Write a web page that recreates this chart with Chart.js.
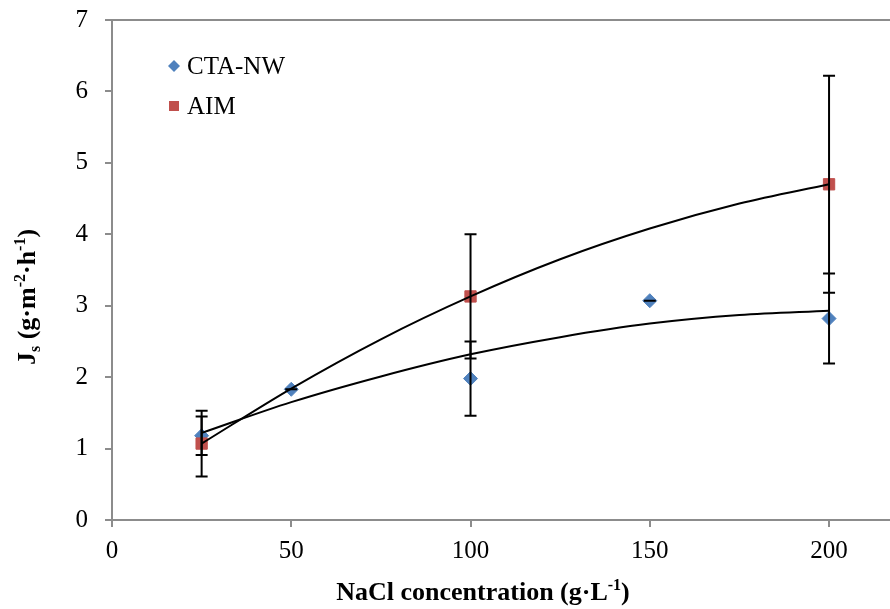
<html>
<head>
  <title>Js vs NaCl concentration</title>
  <script src="https://cdn.jsdelivr.net/npm/chart.js"></script>
  <style>
    html, body { margin: 0; padding: 0; background: #fff; overflow: hidden; }
    canvas { display: block; }
  </style>
</head>
<body>
  <canvas id="myChart" width="890" height="609"></canvas>
  <script>
    // data
    const ctaX = [25, 50, 100, 150, 200];
    const ctaValues = [1.18, 1.83, 1.98, 3.07, 2.82];
    const ctaErrors = [0.27, 0, 0.52, 0, 0.63];

    const aimX = [25, 100, 200];
    const aimValues = [1.07, 3.13, 4.70];
    const aimErrors = [0.46, 0.87, 1.52];

    // trend lines (polynomial in the original), read at these x
    const trendX = [25, 50, 75, 100, 125, 150, 175, 200];
    const ctaTrend = [1.22, 1.65, 2.01, 2.32, 2.56, 2.75, 2.87, 2.93];
    const aimTrend = [1.07, 1.84, 2.53, 3.13, 3.65, 4.08, 4.43, 4.70];

    const xTicks = [0, 50, 100, 150, 200];
    const yTicks = [0, 1, 2, 3, 4, 5, 6, 7];

    const blue = '#4F81BD';
    const red = '#C0504D';
    const axisGray = '#8C8C8C';
    const serif = "'Liberation Serif', 'Times New Roman', serif";

    function points(xs, ys) {
      return xs.map((x, i) => ({ x: x, y: ys[i] }));
    }

    // text with sub/superscripts
    function richWidth(ctx, parts, size) {
      let w = 0;
      parts.forEach(p => {
        ctx.font = 'bold ' + (p[1] === 'n' ? size : Math.round(size * 0.62)) + 'px ' + serif;
        w += ctx.measureText(p[0]).width;
      });
      return w;
    }
    function drawRich(ctx, parts, cx, baseY, size) {
      let x = cx - richWidth(ctx, parts, size) / 2;
      ctx.textAlign = 'left';
      ctx.textBaseline = 'alphabetic';
      ctx.fillStyle = '#000';
      parts.forEach(p => {
        let y = baseY;
        if (p[1] === 'n') {
          ctx.font = 'bold ' + size + 'px ' + serif;
        } else {
          ctx.font = 'bold ' + Math.round(size * 0.62) + 'px ' + serif;
          y += p[1] === 'sub' ? size * 0.2 : -size * 0.38;
        }
        ctx.fillText(p[0], x, y);
        x += ctx.measureText(p[0]).width;
      });
    }

    const errorBars = {
      id: 'errorBars',
      afterDatasetsDraw(chart) {
        const ctx = chart.ctx;
        const xs = chart.scales.x, ys = chart.scales.y;
        const sets = [[ctaX, ctaValues, ctaErrors], [aimX, aimValues, aimErrors]];
        ctx.save();
        ctx.strokeStyle = '#000';
        ctx.lineWidth = 2;
        sets.forEach(s => {
          s[0].forEach((x, i) => {
            const px = xs.getPixelForValue(x);
            const top = ys.getPixelForValue(s[1][i] + s[2][i]);
            const bot = ys.getPixelForValue(s[1][i] - s[2][i]);
            ctx.beginPath();
            ctx.moveTo(px, top); ctx.lineTo(px, bot);
            ctx.moveTo(px - 6, top); ctx.lineTo(px + 6, top);
            ctx.moveTo(px - 6, bot); ctx.lineTo(px + 6, bot);
            ctx.stroke();
          });
        });
        ctx.restore();
      }
    };

    const decorations = {
      id: 'decorations',
      afterDraw(chart) {
        const ctx = chart.ctx;
        ctx.save();
        // legend inside the plot
        ctx.fillStyle = blue;
        ctx.beginPath();
        ctx.moveTo(174, 60); ctx.lineTo(180, 66); ctx.lineTo(174, 72); ctx.lineTo(168, 66);
        ctx.closePath();
        ctx.fill();
        ctx.fillStyle = red;
        ctx.fillRect(169, 101, 10, 10);
        ctx.fillStyle = '#000';
        ctx.font = '25px ' + serif;
        ctx.textAlign = 'left';
        ctx.textBaseline = 'middle';
        ctx.fillText('CTA-NW', 187, 67);
        ctx.fillText('AIM', 187, 107);

        // axis titles
        drawRich(ctx, [['NaCl concentration (g\u00B7L', 'n'], ['-1', 'sup'], [')', 'n']], 483, 600, 26);
        ctx.translate(35, 297);
        ctx.rotate(-Math.PI / 2);
        drawRich(ctx, [['J', 'n'], ['s', 'sub'], [' (g\u00B7m', 'n'], ['-2', 'sup'], ['\u00B7h', 'n'], ['-1', 'sup'], [')', 'n']], 0, 0, 26);
        ctx.restore();
      }
    };

    const ctx = document.getElementById('myChart').getContext('2d');
    const myChart = new Chart(ctx, {
      type: 'scatter',
      data: {
        datasets: [
          {
            label: 'CTA-NW trend',
            data: points(trendX, ctaTrend),
            showLine: true,
            pointRadius: 0,
            borderColor: '#000',
            borderWidth: 2,
            cubicInterpolationMode: 'monotone',
            order: 0
          },
          {
            label: 'AIM trend',
            data: points(trendX, aimTrend),
            showLine: true,
            pointRadius: 0,
            borderColor: '#000',
            borderWidth: 2,
            cubicInterpolationMode: 'monotone',
            order: 0
          },
          {
            label: 'CTA-NW',
            data: points(ctaX, ctaValues),
            pointStyle: 'rectRot',
            pointRadius: 7,
            backgroundColor: blue,
            borderColor: blue,
            borderWidth: 1,
            order: 2
          },
          {
            label: 'AIM',
            data: points(aimX, aimValues),
            pointStyle: 'rect',
            pointRadius: 8,
            backgroundColor: red,
            borderColor: red,
            borderWidth: 1,
            order: 1
          }
        ]
      },
      options: {
        responsive: false,
        animation: false,
        layout: { autoPadding: false, padding: { top: 20, left: 0, right: 0, bottom: 0 } },
        plugins: {
          legend: { display: false },
          tooltip: { enabled: false }
        },
        scales: {
          x: {
            type: 'linear',
            min: 0,
            max: 217,
            afterBuildTicks: s => { s.ticks = xTicks.map(v => ({ value: v })); },
            afterFit: s => { s.height = 89; s.paddingLeft = 0; s.paddingRight = 0; },
            ticks: {
              color: '#000',
              font: { family: serif, size: 25 },
              padding: 9,
              maxRotation: 0
            },
            grid: {
              drawOnChartArea: false,
              tickColor: axisGray,
              tickLength: 7,
              lineWidth: 2
            },
            border: { color: axisGray, width: 2 }
          },
          y: {
            min: 0,
            max: 7,
            afterBuildTicks: s => { s.ticks = yTicks.map(v => ({ value: v })); },
            afterFit: s => { s.width = 112; s.paddingTop = 0; s.paddingBottom = 0; },
            ticks: {
              color: '#000',
              font: { family: serif, size: 25 },
              padding: 17
            },
            grid: {
              color: c => (c.tick && c.tick.value === 7 ? axisGray : 'rgba(0,0,0,0)'),
              tickColor: axisGray,
              tickLength: 7,
              lineWidth: 2
            },
            border: { color: axisGray, width: 2 }
          }
        }
      },
      plugins: [errorBars, decorations]
    });
  </script>
</body>
</html>
